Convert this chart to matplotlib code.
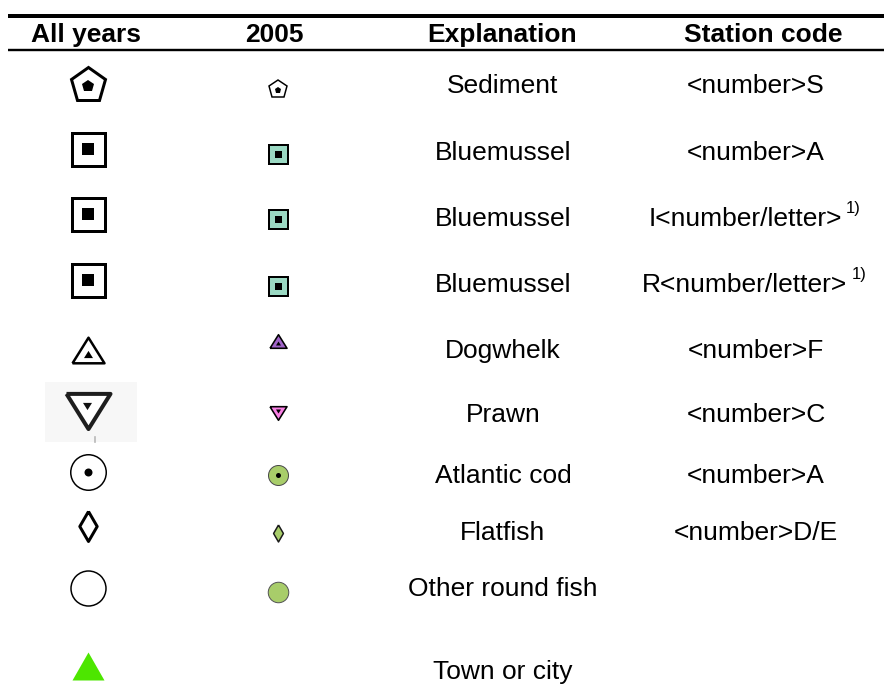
import matplotlib
matplotlib.use("Agg")
import matplotlib.pyplot as plt
from matplotlib.patches import Rectangle

# table content
headers = ["All years", "2005", "Explanation", "Station code"]
explanations = ["Sediment", "Bluemussel", "Bluemussel", "Bluemussel", "Dogwhelk",
                "Prawn", "Atlantic cod", "Flatfish", "Other round fish", "Town or city"]
station_codes = ["<number>S", "<number>A", "I<number/letter>", "R<number/letter>",
                 "<number>F", "<number>C", "<number>A", "<number>D/E", "", ""]
footnote = [False, False, True, True, False, False, False, False, False, False]
footnote_text = "1)"

# symbol shapes for each row (large = all years, small = 2005)
large_shapes = ["pent", "square", "square", "square", "tri", "prawn", "cod", "diamond", "circle", "town"]
small_shapes = ["pent", "square", "square", "square", "tri", "tridown", "cod", "diamond", "circle", None]
small_colors = ["white", "#9bd9c3", "#9bd9c3", "#9bd9c3", "#a064c8", "#f880e4",
                "#a8cd6a", "#a8cd6a", "#a8cd6a", None]
town_color = "#4de600"

# layout (pixels, figure is 884 x 693)
W, H = 884, 693
col_x = [88, 278, 503, 756]
header_x = [86, 274, 502, 763]
header_base = 42
text_base = [93, 160, 226, 292, 358, 422, 483, 540, 596, 679]
large_y = [84.5, 149, 214, 280, 350, 411, 472, 526, 588, 666]
small_y = [89, 154, 219, 286, 341, 413, 475, 533, 592, None]

TRI_UP = [(-1, -0.8), (1, -0.8), (0, 0.8), (-1, -0.8)]
TRI_DOWN = [(-1, 0.8), (1, 0.8), (0, -0.8), (-1, 0.8)]
DIAMOND = [(0, 1), (0.58, 0), (0, -1), (-0.58, 0), (0, 1)]
TOWN = [(-1, -0.875), (1, -0.875), (0, 0.875), (-1, -0.875)]


def pt(px):
    return px * 0.72


def mark(ax, x, y, marker, size, face, edge="black", lw=0, z=3):
    ax.plot([x], [y], ls="none", marker=marker, ms=pt(size), mfc=face,
            mec=edge, mew=pt(lw), zorder=z)


def draw_large(ax, x, y, shape):
    if shape == "pent":
        mark(ax, x, y, "p", 36, "white", lw=3)
        mark(ax, x, y + 1, "p", 13, "black", z=4)
    elif shape == "square":
        mark(ax, x, y, "s", 33, "white", lw=3)
        mark(ax, x, y, "s", 12, "black", z=4)
    elif shape == "tri":
        mark(ax, x, y, TRI_UP, 32, "white", lw=2.5)
        mark(ax, x, y + 4, TRI_UP, 9, "black", z=4)
    elif shape == "prawn":
        # faint background of the pasted symbol
        ax.add_patch(Rectangle((x - 43, y - 29), 92, 60, facecolor="#f7f7f7",
                               edgecolor="none", zorder=1))
        mark(ax, x, y, TRI_DOWN, 44, "white", edge="#1e1e1e", lw=4)
        mark(ax, x - 1, y - 5, TRI_DOWN, 9, "#111111", z=4)
        ax.plot([x + 7, x + 7], [y + 26, y + 31], color="#b8b8b8", lw=1.2, zorder=2)
    elif shape == "cod":
        mark(ax, x, y, "o", 35.5, "white", lw=1.5)
        mark(ax, x, y, "o", 8, "black", z=4)
    elif shape == "diamond":
        mark(ax, x, y, DIAMOND, 30, "white", lw=3)
    elif shape == "circle":
        mark(ax, x, y, "o", 35, "white", lw=1.5)
    elif shape == "town":
        mark(ax, x, y, TOWN, 32, town_color, edge=town_color, lw=0)


def draw_small(ax, x, y, shape, color):
    if shape == "pent":
        mark(ax, x, y, "p", 19, color, lw=1.5)
        mark(ax, x, y + 0.5, "p", 6.5, "black", z=4)
    elif shape == "square":
        mark(ax, x, y, "s", 19, color, lw=2)
        mark(ax, x, y, "s", 7, "black", z=4)
    elif shape == "tri":
        mark(ax, x, y, TRI_UP, 17, color, lw=1.6)
        mark(ax, x, y + 2, TRI_UP, 5, "black", z=4)
    elif shape == "tridown":
        mark(ax, x, y, TRI_DOWN, 17, color, lw=1.6)
        mark(ax, x, y - 2, TRI_DOWN, 5, "black", z=4)
    elif shape == "cod":
        mark(ax, x, y, "o", 20, color, edge="#4a4a4a", lw=1)
        mark(ax, x, y, "o", 5, "black", z=4)
    elif shape == "diamond":
        mark(ax, x, y, DIAMOND, 17, color, edge="#1a1a1a", lw=1.5)
    elif shape == "circle":
        mark(ax, x, y, "o", 20.5, color, edge="#555555", lw=1)


plt.rcParams['font.family'] = ['Liberation Sans', 'DejaVu Sans']
fig = plt.figure(figsize=(W / 100, H / 100), dpi=100)
ax = fig.add_axes([0, 0, 1, 1])
ax.set_xlim(0, W)
ax.set_ylim(H, 0)
ax.axis("off")

# rules
ax.plot([8, W], [16, 16], color="black", lw=pt(4), solid_capstyle="butt")
ax.plot([8, W], [49.5, 49.5], color="black", lw=pt(2.4), solid_capstyle="butt")

for hx, h in zip(header_x, headers):
    ax.text(hx, header_base, h, ha="center", va="baseline", fontsize=19, fontweight="bold")

for i in range(len(explanations)):
    draw_large(ax, col_x[0], large_y[i], large_shapes[i])
    if small_shapes[i] is not None:
        draw_small(ax, col_x[1], small_y[i], small_shapes[i], small_colors[i])
    ax.text(col_x[2], text_base[i], explanations[i], ha="center", va="baseline", fontsize=19)
    if station_codes[i]:
        sx = col_x[3] - 11 if footnote[i] else col_x[3]
        t = ax.text(sx, text_base[i], station_codes[i], ha="center", va="baseline", fontsize=19)
        if footnote[i]:
            ax.annotate(footnote_text, xy=(1, 1), xycoords=t, xytext=(3, 4),
                        textcoords="offset points", ha="left", va="top", fontsize=12)

fig.savefig("out.png", dpi=100)
